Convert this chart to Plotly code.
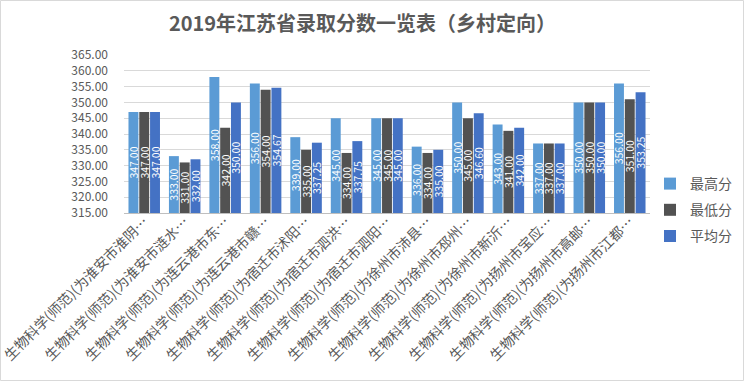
import plotly.graph_objects as go

categories = [
    "生物科学(师范)(为淮安市淮阴…",
    "生物科学(师范)(为淮安市涟水…",
    "生物科学(师范)(为连云港市东…",
    "生物科学(师范)(为连云港市赣…",
    "生物科学(师范)(为宿迁市沭阳…",
    "生物科学(师范)(为宿迁市泗洪…",
    "生物科学(师范)(为宿迁市泗阳…",
    "生物科学(师范)(为徐州市沛县…",
    "生物科学(师范)(为徐州市邳州…",
    "生物科学(师范)(为徐州市新沂…",
    "生物科学(师范)(为扬州市宝应…",
    "生物科学(师范)(为扬州市高邮…",
    "生物科学(师范)(为扬州市江都…",
]
max_scores = [347, 333, 358, 356, 339, 345, 345, 336, 350, 343, 337, 350, 356]
min_scores = [347, 331, 342, 354, 335, 334, 345, 334, 345, 341, 337, 350, 351]
avg_scores = [347, 332, 350, 354.67, 337.25, 337.75, 345, 335, 346.60, 342, 337, 350, 353.25]

Y_MIN, Y_MAX = 315, 365  # axis minimum: bars start at the axis floor, like the original

series = [
    ("最高分", max_scores, "#5B9BD5"),
    ("最低分", min_scores, "#525252"),
    ("平均分", avg_scores, "#4472C4"),
]

FONT = "Noto Sans CJK SC"
fig = go.Figure()
for name, vals, color in series:
    fig.add_trace(go.Bar(
        name=name, x=categories,
        y=[v - Y_MIN for v in vals], base=Y_MIN,
        customdata=vals, hovertemplate="%{x}<br>%{customdata:.2f}<extra>" + name + "</extra>",
        legendgroup=name,
        marker=dict(color=color, line=dict(width=0)),
        text=[f"{v:.2f}" for v in vals],
        textposition="inside", insidetextanchor="middle",
        textangle=-90, constraintext="none",
        textfont=dict(color="white", size=10.5, family=FONT),
    ))

fig.update_layout(
    width=744, height=381,
    margin=dict(l=124, r=94, t=55, b=168, autoexpand=False),
    paper_bgcolor="white", plot_bgcolor="white",
    barmode="group", bargap=0.2, bargroupgap=0.08,
    font=dict(family=FONT, color="#595959"),
    title=dict(text="<b>2019年江苏省录取分数一览表（乡村定向）</b>",
               x=362.5/744, xref="container", xanchor="center",
               y=1 - 24/381, yref="container", yanchor="middle",
               font=dict(size=20, color="#595959", family=FONT)),
    legend=dict(x=(650-124)/526, xanchor="left", y=(213-210)/158, yanchor="middle",
                font=dict(size=14, color="#595959", family=FONT),
                tracegroupgap=5, bgcolor="rgba(0,0,0,0)"),
    showlegend=True,
)
fig.update_yaxes(range=[Y_MIN, Y_MAX], dtick=5, tickformat=".2f", automargin=False,
                 showgrid=True, gridcolor="#D9D9D9", gridwidth=1,
                 zeroline=False, showline=False,
                 ticklabelstandoff=15,
                 tickfont=dict(size=12, color="#595959", family=FONT))
fig.update_xaxes(tickangle=-45, showline=True, linecolor="#BFBFBF", linewidth=1,
                 showgrid=False, ticks="", automargin=False,
                 ticklabelstandoff=-6,
                 tickfont=dict(size=14, color="#595959", family=FONT))

fig.add_shape(type="rect", xref="paper", yref="paper",
              x0=(0.5-124)/526, x1=(743.5-124)/526,
              y0=(213-380.5)/158, y1=(213-0.5)/158,
              line=dict(color="#D9D9D9", width=1), fillcolor="rgba(0,0,0,0)",
              layer="below")

fig.write_html("out.html", config={"displayModeBar": False},
               post_script="document.body.style.margin='0';")
